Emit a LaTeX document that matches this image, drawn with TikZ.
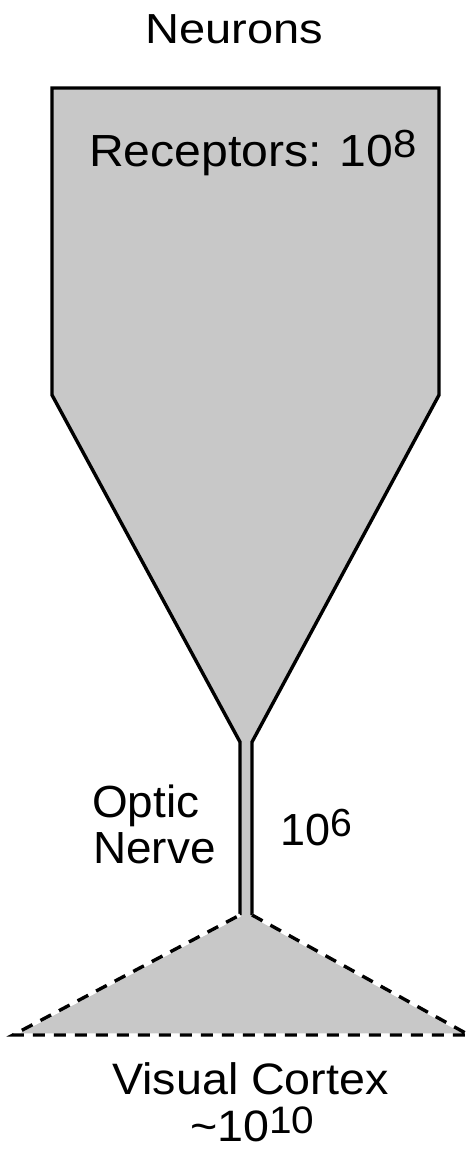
\documentclass[tikz,border=0pt]{standalone}
\usepackage{fontspec}
\setmainfont{Liberation Sans}
\usepackage{graphicx}
\definecolor{shapegray}{RGB}{200,200,200}
\newcommand{\supnum}[1]{\raisebox{0.19em}{\scalebox{0.87}{#1}}}
\begin{document}
\begin{tikzpicture}[x=1pt,y=-1pt,
  lbl/.style={inner sep=0pt, anchor=base west, font=\fontsize{45}{46}\selectfont},
  outline/.style={line width=3.4pt, line join=miter},
  dashedge/.style={line width=3.4pt, dash pattern=on 12pt off 9pt},
  whiteedge/.style={line width=3.4pt, white},
]
\useasboundingbox (0,0) rectangle (469,1159);
% shapes
\fill[shapegray] (240,915) -- (240,742) -- (52,395) -- (52,88) -- (439,88) -- (439,395) -- (252,742) -- (252,915) -- (469,1035) -- (13,1035) -- cycle;
\draw[outline] (240,915) -- (240,742) -- (52,395) -- (52,88) -- (439,88) -- (439,395) -- (252,742) -- (252,915);
\draw[whiteedge] (252,915) -- (469,1035) -- (13,1035) -- (240,915);
\draw[dashedge] (252,915) -- (469,1035) -- (13,1035) -- (240,915);
% labels
\node[lbl, font=\fontsize{42}{44}\selectfont] (neurons) at (145,43) {\scalebox{1.12}[1]{Neurons}};
\node[lbl] (receptors) at (89,166) {\scalebox{1.07}[1]{Receptors: 10\supnum{8}}};
\node[lbl] (optic) at (92,817) {\scalebox{1.02}[1]{Optic}};
\node[lbl] (nerve) at (93,863) {\scalebox{1.02}[1]{Nerve}};
\node[lbl] (nervecount) at (280,845) {10\supnum{6}};
\node[lbl, font=\fontsize{44}{46}\selectfont] (cortex) at (112,1094) {\scalebox{1.06}[1]{Visual Cortex}};
\node[lbl, font=\fontsize{44}{46}\selectfont] (cortexcount) at (190,1141) {\scalebox{1.06}[1]{\char"7E 10\raisebox{0.16em}{\scalebox{0.87}{10}}}};
\end{tikzpicture}
\end{document}
